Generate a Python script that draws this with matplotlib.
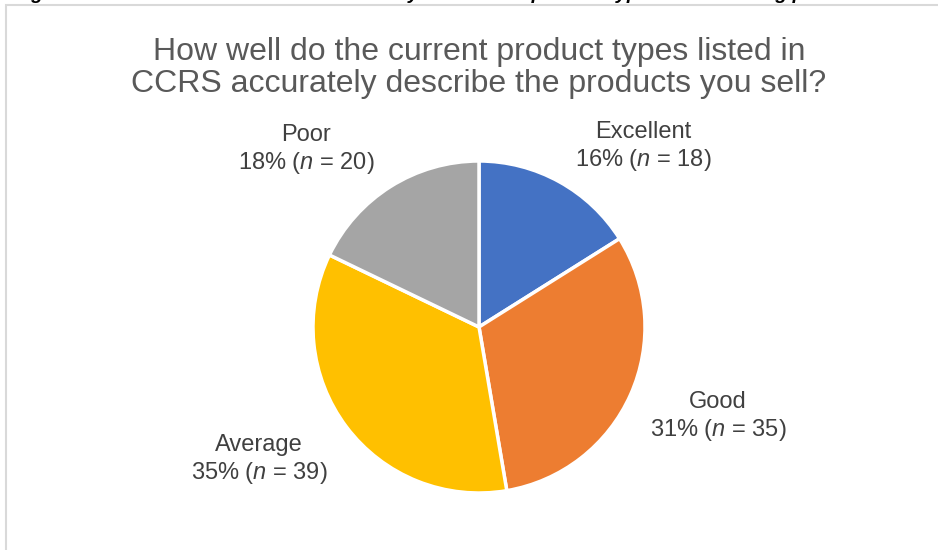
import matplotlib
matplotlib.use("Agg")
import matplotlib.pyplot as plt
from matplotlib.patches import Rectangle

plt.rcParams['font.family'] = ['Liberation Sans', 'DejaVu Sans']
plt.rcParams['mathtext.fontset'] = 'custom'
plt.rcParams['mathtext.rm'] = 'Liberation Sans'
plt.rcParams['mathtext.it'] = 'Liberation Sans:italic'

categories = ["Excellent", "Good", "Average", "Poor"]
counts = [18, 35, 39, 20]
percents = [16, 31, 35, 18]
colors = ["#4472C4", "#ED7D31", "#FFC000", "#A5A5A5"]
title = "How well do the current product types listed in\nCCRS accurately describe the products you sell?"
caption = "Figure 4: Licensee views on how accurately the current product types are matching products"

W, H = 938, 550
fig = plt.figure(figsize=(W / 100, H / 100), dpi=100)
fig.patch.set_facecolor("white")

# chart area border (continues beyond the right and bottom edges)
fig.patches.append(Rectangle((6 / W, -0.1), 1.2, (H - 4.5) / H + 0.1,
                             transform=fig.transFigure, fill=False,
                             edgecolor="#D9D9D9", linewidth=1.5))

# page caption above the chart, only its lowest strokes fall inside the frame
fig.text(14 / W, 1 + 1 / H, caption, ha="left", va="baseline",
         fontsize=14, fontweight="bold", fontstyle="italic", color="#000000")

fig.text(479 / W, 1 - 92 / H, title, ha="center", va="baseline",
         fontsize=23, color="#595959", linespacing=1.1)

cx, cy, r = 479, 327, 166
ax = fig.add_axes([(cx - r) / W, (H - cy - r) / H, 2 * r / W, 2 * r / H])
ax.pie(counts, colors=colors, startangle=90, counterclock=False,
       wedgeprops=dict(edgecolor="white", linewidth=2.5), radius=1.0)
ax.set_xlim(-1, 1)
ax.set_ylim(-1, 1)
ax.set_aspect("auto")
ax.axis("off")

label_pos = {"Excellent": (643, 147), "Good": (718, 417),
             "Average": (259, 460), "Poor": (306, 150)}
for cat, n, p in zip(categories, counts, percents):
    x, y = label_pos[cat]
    fig.text(x / W, 1 - y / H, f"{cat}\n{p}% ($\\mathit{{n}}$ = {n})",
             ha="center", va="center", fontsize=17, color="#404040",
             linespacing=1.25)

fig.savefig("out.png", dpi=100, facecolor="white")
